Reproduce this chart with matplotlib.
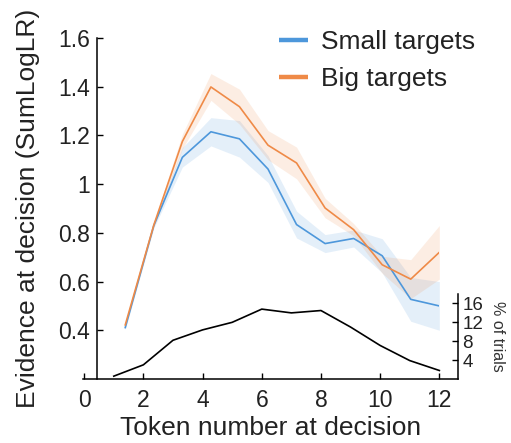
import matplotlib
matplotlib.use("Agg")
import matplotlib.pyplot as plt
import numpy as np

plt.rcParams['font.family'] = ['Liberation Sans', 'DejaVu Sans']

tokens = [1, 2, 3, 4, 5, 6, 7, 8, 9, 10, 11, 12]
small_mean = [0.411, 0.830, 1.110, 1.215, 1.186, 1.062, 0.834, 0.756, 0.777, 0.706, 0.527, 0.500]
small_se = [0.008, 0.010, 0.040, 0.058, 0.075, 0.055, 0.055, 0.037, 0.035, 0.070, 0.090, 0.100]
big_mean = [0.422, 0.832, 1.175, 1.399, 1.318, 1.160, 1.087, 0.902, 0.813, 0.669, 0.610, 0.720]
big_se = [0.008, 0.010, 0.030, 0.055, 0.072, 0.060, 0.065, 0.040, 0.025, 0.035, 0.080, 0.110]
pct_trials = [0.6, 3.0, 8.2, 10.4, 12.0, 14.8, 14.0, 14.5, 11.0, 7.1, 3.9, 1.8]

blue = '#4D97DB'
orange = '#EF8A47'
txt = '#222222'

fig = plt.figure(figsize=(5.11, 4.43), dpi=100)

W, H = 511.0, 443.0
# histogram axes (bottom, with x axis)
hx0, hx1 = 82.7, 458.0
ybot, hytop = 379.0, 294.0
axh = fig.add_axes([hx0 / W, 1 - ybot / H, (hx1 - hx0) / W, (ybot - hytop) / H])
axh.patch.set_alpha(0)
axh.plot(tokens, pct_trials, color='black', lw=1.2)
axh.set_xlim(-0.05, 12.63)
axh.set_ylim(0, 18)
axh.spines['top'].set_visible(False)
axh.spines['left'].set_visible(False)
axh.yaxis.tick_right()
axh.yaxis.set_label_position('right')
axh.set_yticks([4, 8, 12, 16])
axh.set_xticks([0, 2, 4, 6, 8, 10, 12])
axh.tick_params(axis='y', direction='in', length=4, labelsize=13.5, pad=3, width=1, labelcolor=txt)
axh.tick_params(axis='x', direction='in', length=4, labelsize=16.5, pad=7, width=1, labelcolor=txt)
axh.set_ylabel('% of trials', rotation=270, fontsize=11.5, labelpad=16, color='#333333')
axh.set_xlabel('Token number at decision', fontsize=19, labelpad=3, color=txt)
for s in ('bottom', 'right'):
    axh.spines[s].set_linewidth(1.1)

# main axes
mx0, mx1 = 96.7, 439.3
mytop = 38.0
ax = fig.add_axes([mx0 / W, 1 - ybot / H, (mx1 - mx0) / W, (ybot - mytop) / H])
ax.patch.set_alpha(0)
t = np.array(tokens, dtype=float)
sm, ss = np.array(small_mean), np.array(small_se)
bm, bs = np.array(big_mean), np.array(big_se)
ax.fill_between(t, sm - ss, sm + ss, color=blue, alpha=0.15, lw=0)
ax.fill_between(t, bm - bs, bm + bs, color=orange, alpha=0.15, lw=0)
ax.plot(t, sm, color=blue, lw=1.2, label='Small targets')
ax.plot(t, bm, color=orange, lw=1.2, label='Big targets')
ax.set_xlim(0, 12)
ax.set_ylim(0.2, 1.6)
ax.set_xticks([])
for s in ('top', 'right', 'bottom'):
    ax.spines[s].set_visible(False)
ax.spines['left'].set_linewidth(1.1)
ax.set_yticks([0.4, 0.6, 0.8, 1.0, 1.2, 1.4, 1.6])
ax.set_yticklabels(['0.4', '0.6', '0.8', '1', '1.2', '1.4', '1.6'])
ax.tick_params(axis='y', direction='in', length=4, labelsize=16.5, pad=5, width=1, labelcolor=txt)
ax.set_ylabel('Evidence at decision (SumLogLR)', fontsize=19, labelpad=13, color=txt)

leg = ax.legend(loc='upper left', bbox_to_anchor=(279 / W, 1 - 30 / H),
                bbox_transform=fig.transFigure, frameon=False, fontsize=19,
                handlelength=1.1, handletextpad=0.5, labelspacing=0.5,
                borderpad=0, borderaxespad=0)
for line in leg.get_lines():
    line.set_linewidth(3.2)
    line.set_solid_capstyle('butt')
for text in leg.get_texts():
    text.set_color(txt)

fig.savefig('out.png', dpi=100)
